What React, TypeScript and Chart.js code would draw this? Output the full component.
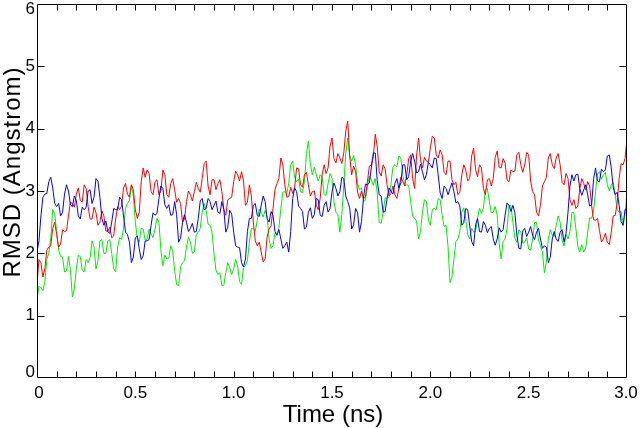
import React, { useEffect, useRef } from "react";
import { Chart, registerables } from "chart.js";

Chart.register(...registerables);

// time sampling of the series (ns)
const TIME_STEP = 0.01;

const RED = [
  1.5, 1.9, 1.85, 1.62, 1.75, 2.05, 2.1, 2.12, 2.4, 2.5,
  2.3, 2.1, 2.15, 2.38, 2.35, 2.36, 2.6, 2.82, 2.8, 2.74,
  2.95, 3.05, 2.85, 2.82, 3.1, 3.04, 2.75, 2.55, 2.55, 2.74,
  2.65, 2.45, 2.5, 2.68, 2.6, 2.36, 2.35, 2.42, 2.25, 2.28,
  2.55, 2.75, 2.7, 2.76, 3.05, 3.12, 2.95, 2.9, 3.1, 3.02,
  2.7, 2.56, 2.66, 3.15, 3.37, 3.22, 3.34, 3.28, 2.99, 2.94,
  3.15, 3.18, 2.94, 3.0, 3.34, 3.26, 2.94, 2.9, 3.12, 3.2,
  3.02, 2.82, 2.88, 2.8, 2.5, 2.55, 2.83, 3.0, 2.94, 2.84,
  2.99, 3.14, 3.04, 2.98, 3.2, 3.44, 3.48, 3.08, 2.94, 3.18,
  3.18, 3.02, 3.12, 3.18, 2.99, 2.7, 2.61, 2.86, 2.88, 2.9,
  3.15, 3.32, 3.26, 3.16, 3.31, 3.16, 2.77, 2.82, 3.1, 2.92,
  2.5, 2.2, 2.12, 2.18, 2.02, 1.86, 1.91, 2.26, 2.39, 2.44,
  2.72, 3.02, 3.12, 3.2, 3.53, 3.42, 3.1, 2.9, 2.91, 3.06,
  2.96, 3.05, 3.37, 3.36, 3.1, 3.06, 3.26, 3.3, 3.1, 2.92,
  2.99, 3.0, 2.77, 2.7, 2.88, 3.26, 3.42, 3.28, 3.37, 3.72,
  3.85, 3.52, 3.45, 3.6, 3.53, 3.44, 3.61, 3.96, 4.12, 3.56,
  3.26, 3.4, 3.31, 2.98, 2.88, 3.0, 2.88, 2.9, 3.15, 3.4,
  3.42, 3.55, 3.91, 3.72, 3.31, 3.24, 3.42, 3.36, 3.1, 2.92,
  2.96, 3.08, 2.94, 2.88, 3.04, 3.22, 3.15, 3.08, 3.26, 3.52,
  3.58, 3.2, 3.04, 3.56, 3.85, 3.5, 3.37, 3.54, 3.48, 3.46,
  3.69, 3.88, 3.85, 3.58, 3.53, 3.66, 3.58, 3.3, 3.26, 3.48,
  3.48, 3.18, 3.1, 3.14, 2.94, 2.98, 3.26, 3.42, 3.34, 3.16,
  3.2, 3.56, 3.69, 3.34, 3.23, 3.42, 3.37, 3.04, 2.94, 3.18,
  3.2, 3.08, 3.2, 3.54, 3.64, 3.38, 3.37, 3.52, 3.45, 3.18,
  3.15, 3.34, 3.31, 3.32, 3.58, 3.62, 3.42, 3.3, 3.42, 3.62,
  3.58, 3.16, 2.99, 2.94, 2.66, 2.6, 2.77, 3.08, 3.15, 3.22,
  3.53, 3.6, 3.42, 3.36, 3.53, 3.6, 3.42, 3.14, 3.1, 3.28,
  3.2, 2.86, 2.77, 2.86, 2.72, 2.76, 3.04, 3.2, 3.12, 3.02,
  3.15, 3.08, 2.77, 2.54, 2.53, 2.56, 2.37, 2.18, 2.23, 2.32,
  2.18, 2.14, 2.34, 2.6, 2.61, 2.8, 3.2, 3.44, 3.42, 3.52,
  3.85,
];

const BLUE = [
  2.02, 2.2, 2.6, 2.9, 2.95, 2.96, 3.15, 3.22, 3.05, 2.8,
  2.75, 2.8, 2.6, 2.66, 2.95, 3.1, 3.0, 2.78, 2.75, 2.92,
  2.85, 2.6, 2.55, 2.74, 2.7, 2.74, 3.0, 3.02, 2.8, 2.9,
  3.2, 3.16, 2.9, 2.56, 2.45, 2.52, 2.35, 2.32, 2.5, 2.72,
  2.7, 2.7, 2.9, 2.86, 2.6, 2.34, 2.3, 2.18, 1.85, 1.94,
  2.25, 2.28, 2.07, 1.9, 1.96, 2.2, 2.2, 2.22, 2.45, 2.65,
  2.61, 2.64, 2.88, 3.08, 3.04, 2.78, 2.72, 2.78, 2.61, 2.62,
  2.83, 2.62, 2.18, 2.24, 2.5, 2.62, 2.5, 2.35, 2.4, 2.48,
  2.34, 2.35, 2.56, 2.84, 2.88, 2.7, 2.72, 2.88, 2.83, 2.7,
  2.77, 2.84, 2.66, 2.64, 2.83, 2.7, 2.34, 2.42, 2.69, 2.63,
  2.34, 2.12, 2.1, 2.09, 1.85, 1.78, 1.91, 2.35, 2.56, 2.56,
  2.77, 2.8, 2.61, 2.59, 2.77, 2.92, 2.83, 2.56, 2.5, 2.67,
  2.61, 2.35, 2.29, 2.38, 2.23, 2.08, 2.12, 2.18, 2.02, 2.35,
  2.88, 3.05, 2.99, 2.76, 2.72, 2.67, 2.39, 2.42, 2.66, 2.73,
  2.56, 2.62, 2.88, 2.86, 2.61, 2.59, 2.77, 2.83, 2.66, 2.72,
  2.99, 3.13, 3.04, 2.92, 2.99, 3.22, 3.2, 2.92, 2.83, 2.73,
  2.39, 2.46, 2.72, 2.65, 2.34, 2.51, 2.88, 3.11, 3.1, 3.13,
  3.37, 3.61, 3.61, 3.17, 2.94, 2.92, 2.66, 2.67, 2.88, 3.05,
  2.99, 2.95, 3.12, 3.2, 3.04, 3.13, 3.42, 3.42, 3.18, 3.23,
  3.48, 3.6, 3.48, 3.29, 3.31, 3.43, 3.31, 3.18, 3.26, 3.46,
  3.42, 3.37, 3.53, 3.52, 3.26, 2.97, 2.88, 3.08, 3.04, 2.94,
  3.04, 3.13, 2.99, 2.81, 2.83, 2.76, 2.45, 2.49, 2.72, 2.7,
  2.45, 2.19, 2.12, 2.46, 2.56, 2.35, 2.34, 2.51, 2.45, 2.33,
  2.4, 2.43, 2.23, 2.13, 2.23, 2.41, 2.34, 2.38, 2.61, 2.81,
  2.77, 2.67, 2.77, 2.65, 2.29, 2.08, 2.07, 2.36, 2.4, 2.27,
  2.34, 2.43, 2.29, 2.22, 2.34, 2.4, 2.23, 2.08, 2.12, 2.1,
  1.85, 1.94, 2.23, 2.35, 2.23, 2.19, 2.34, 2.38, 2.18, 2.32,
  2.66, 3.08, 3.26, 3.16, 3.26, 3.27, 3.04, 2.93, 3.02, 3.1,
  2.94, 2.76, 2.77, 3.19, 3.37, 3.16, 3.15, 3.35, 3.31, 3.34,
  3.56, 3.58, 3.37, 3.06, 2.94, 2.98, 2.77, 2.51, 2.45, 2.7,
  2.72,
];

const GREEN = [
  1.25, 1.47, 1.45, 1.4, 1.55, 1.9, 2.0, 2.25, 2.7, 2.64,
  2.35, 2.05, 1.95, 1.94, 1.7, 1.72, 1.95, 1.74, 1.3, 1.43,
  1.75, 1.97, 1.95, 1.73, 1.7, 1.9, 1.85, 1.93, 2.2, 2.1,
  1.75, 1.88, 2.2, 2.22, 2.0, 2.0, 2.2, 2.22, 2.0, 1.75,
  1.7, 2.1, 2.25, 2.22, 2.4, 2.72, 2.8, 2.85, 3.1, 2.92,
  2.5, 2.24, 2.18, 2.4, 2.39, 2.21, 2.23, 2.39, 2.31, 2.25,
  2.39, 2.56, 2.5, 2.05, 1.8, 1.97, 1.91, 1.92, 2.12, 2.04,
  1.72, 1.5, 1.48, 1.78, 1.85, 1.88, 2.1, 2.26, 2.18, 2.0,
  2.02, 2.3, 2.34, 2.4, 2.66, 2.8, 2.69, 2.47, 2.45, 2.34,
  1.99, 1.73, 1.66, 1.69, 1.48, 1.49, 1.69, 1.85, 1.77, 1.66,
  1.75, 1.9, 1.8, 1.55, 1.5, 1.77, 1.8, 1.89, 2.18, 2.4,
  2.39, 2.36, 2.53, 2.71, 2.66, 2.58, 2.69, 2.58, 2.23, 2.08,
  2.12, 2.33, 2.29, 2.41, 2.72, 2.98, 2.99, 2.96, 3.12, 3.42,
  3.48, 3.22, 3.15, 3.19, 2.99, 2.97, 3.15, 3.6, 3.8, 3.43,
  3.26, 3.38, 3.26, 3.16, 3.26, 3.22, 2.94, 2.93, 3.12, 3.28,
  3.2, 2.83, 2.66, 2.62, 2.34, 2.62, 3.1, 3.6, 3.85, 3.57,
  3.48, 3.57, 3.42, 3.12, 3.02, 3.05, 2.83, 2.85, 3.07, 3.24,
  3.18, 3.09, 3.2, 2.97, 2.5, 2.48, 2.66, 2.89, 2.88, 2.9,
  3.12, 3.39, 3.42, 3.39, 3.56, 3.53, 3.26, 3.08, 3.1, 3.09,
  2.83, 2.6, 2.56, 2.52, 2.23, 2.35, 2.66, 2.86, 2.83, 2.54,
  2.45, 2.7, 2.72, 2.7, 2.88, 2.86, 2.61, 2.43, 2.45, 2.11,
  1.53, 1.62, 1.91, 2.19, 2.23, 2.35, 2.66, 2.73, 2.56, 2.3,
  2.23, 2.4, 2.34, 2.35, 2.56, 2.72, 2.64, 2.73, 3.02, 3.04,
  2.83, 2.65, 2.66, 2.75, 2.61, 2.16, 1.91, 2.19, 2.23, 2.4,
  2.77, 2.76, 2.5, 2.24, 2.18, 2.38, 2.34, 2.16, 2.18, 2.25,
  2.07, 2.05, 2.23, 2.49, 2.5, 2.21, 2.12, 2.02, 1.69, 1.86,
  2.23, 2.38, 2.29, 2.27, 2.45, 2.6, 2.5, 2.21, 2.12, 2.3,
  2.23, 2.35, 2.66, 2.65, 2.4, 2.11, 2.02, 2.14, 2.02, 2.08,
  2.34, 2.57, 2.56, 2.68, 2.99, 3.27, 3.31, 3.19, 3.26, 3.3,
  3.1, 3.0, 3.1, 3.14, 2.94, 2.7, 2.66, 2.67, 2.45, 2.62,
  2.99,
];

const X_LABEL_VALUES = [0, 0.5, 1.0, 1.5, 2.0, 2.5, 3.0];
const X_TICK_LABELS = ["0", "0.5", "1.0", "1.5", "2.0", "2.5", "3.0"];
const X_MINOR_STEP = 0.1;
const Y_TICK_VALUES = [0, 1, 2, 3, 4, 5, 6];
const Y_TICK_LABELS = ["0", "1", "2", "3", "4", "5", "6"];
const X_TITLE = "Time (ns)";
const Y_TITLE = "RMSD (Angstrom)";

const FONT = "'Liberation Sans', Arial, Helvetica, sans-serif";

const toPoints = (vals: number[]) =>
  vals.map((v, i) => ({ x: +(i * TIME_STEP).toFixed(4), y: v }));

const framePlugin = {
  id: "frameTicks",
  afterDatasetsDraw(chart: any) {
    const { ctx, chartArea: a, scales } = chart;
    const xs = scales.x;
    const ys = scales.y;
    ctx.save();
    ctx.strokeStyle = "#000";
    ctx.lineWidth = 1;
    const L = Math.round(a.left) + 0.5;
    const R = Math.round(a.right) - 0.5;
    const T = Math.round(a.top) + 0.5;
    const B = Math.round(a.bottom) - 0.5;
    ctx.beginPath();
    ctx.rect(L, T, R - L, B - T);
    ctx.stroke();

    // x ticks every 0.1, inward, bottom and top
    const tl = 6;
    ctx.beginPath();
    const n = Math.round((xs.max - xs.min) / X_MINOR_STEP);
    for (let i = 1; i < n; i++) {
      const px = Math.round(xs.getPixelForValue(xs.min + i * X_MINOR_STEP)) + 0.5;
      ctx.moveTo(px, B);
      ctx.lineTo(px, B - tl);
      ctx.moveTo(px, T);
      ctx.lineTo(px, T + tl);
    }
    // y ticks at integers, left and right
    Y_TICK_VALUES.forEach((v) => {
      if (v === ys.min || v === ys.max) return;
      const py = Math.round(ys.getPixelForValue(v)) + 0.5;
      ctx.moveTo(L, py);
      ctx.lineTo(L + tl + 1, py);
      ctx.moveTo(R, py);
      ctx.lineTo(R - tl - 1, py);
    });
    ctx.stroke();

    // tick labels
    ctx.fillStyle = "#000";
    ctx.font = `17px ${FONT}`;
    ctx.textAlign = "center";
    ctx.textBaseline = "alphabetic";
    X_LABEL_VALUES.forEach((v, i) => {
      let px = xs.getPixelForValue(v);
      if (i === 0) px += 2;
      if (i === X_LABEL_VALUES.length - 1) px -= 1;
      ctx.fillText(X_TICK_LABELS[i], px, a.bottom + 20);
    });
    ctx.textAlign = "right";
    ctx.textBaseline = "middle";
    Y_TICK_VALUES.forEach((v, i) => {
      let py = ys.getPixelForValue(v);
      py = Math.max(a.top + 5, Math.min(a.bottom - 6, py));
      ctx.fillText(Y_TICK_LABELS[i], a.left - 2, py);
    });

    // axis titles
    ctx.font = `24px ${FONT}`;
    ctx.textAlign = "center";
    ctx.textBaseline = "alphabetic";
    ctx.fillText(X_TITLE, (a.left + a.right) / 2 + 1, a.bottom + 44);

    ctx.save();
    ctx.translate(20, 172);
    ctx.rotate(-Math.PI / 2);
    try {
      (ctx as any).letterSpacing = "1px";
    } catch (e) {}
    ctx.fillText(Y_TITLE, 0, 0);
    ctx.restore();
    ctx.restore();
  },
};

export default function App() {
  const ref = useRef<HTMLCanvasElement | null>(null);
  useEffect(() => {
    if (!ref.current) return;
    const ds = (label: string, vals: number[], color: string) => ({
      label,
      data: toPoints(vals),
      borderColor: color,
      backgroundColor: color,
      borderWidth: 1,
      pointRadius: 0,
      tension: 0,
      fill: false,
    });
    const chart = new Chart(ref.current, {
      type: "line",
      data: {
        datasets: [
          ds("blue", BLUE, "#0000ff"),
          ds("red", RED, "#ff0000"),
          ds("green", GREEN, "#00ee00"),
        ],
      },
      options: {
        animation: false,
        responsive: false,
        devicePixelRatio: 1,
        layout: { padding: { left: 37, right: 13, top: 4, bottom: 50 } },
        plugins: { legend: { display: false }, tooltip: { enabled: false } },
        scales: {
          x: { type: "linear", min: 0, max: 3, display: false },
          y: { type: "linear", min: 0, max: 6, display: false },
        },
      },
      plugins: [framePlugin],
    });
    return () => chart.destroy();
  }, []);
  return (
    <div
      style={{
        position: "absolute",
        left: 0,
        top: 0,
        width: 640,
        height: 428,
        background: "#fff",
      }}
    >
      <canvas ref={ref} width={640} height={428} />
    </div>
  );
}
